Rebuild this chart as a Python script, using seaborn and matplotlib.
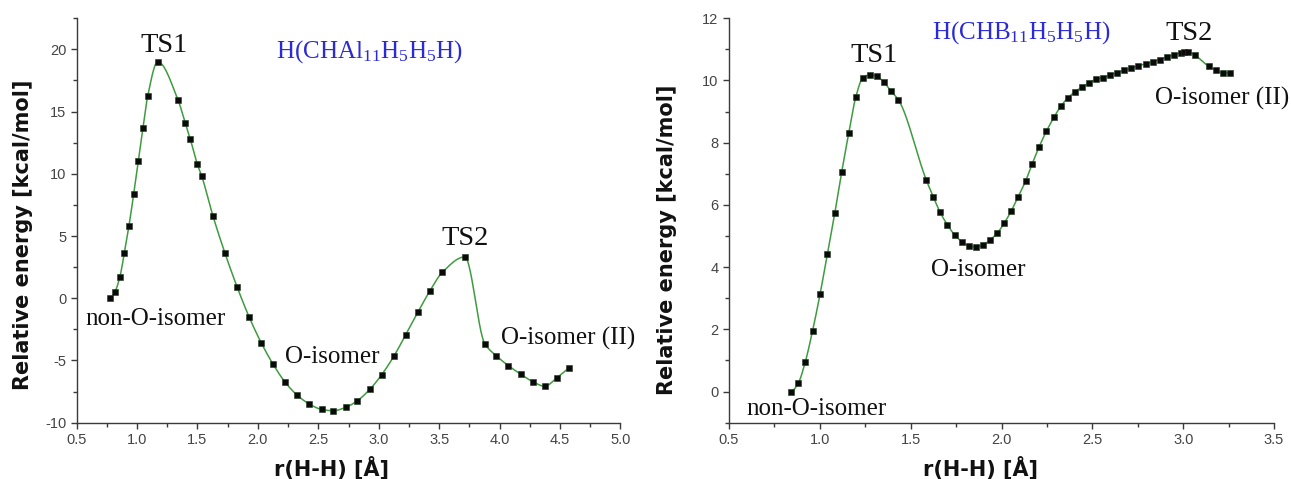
import numpy as np
import pandas as pd
import matplotlib
matplotlib.use("Agg")
import matplotlib.pyplot as plt
from matplotlib.ticker import MultipleLocator
import seaborn as sns

# ---- H(CHAl11H5H5H) energy profile ----
al_r = [0.776, 0.815, 0.858, 0.894, 0.933, 0.972, 1.010, 1.049, 1.088, 1.171,
        1.339, 1.399, 1.440, 1.498, 1.535, 1.628, 1.728, 1.827, 1.929, 2.027,
        2.125, 2.223, 2.324, 2.426, 2.527, 2.625, 2.726, 2.824, 2.926, 3.025,
        3.127, 3.224, 3.325, 3.425, 3.527, 3.712, 3.878, 3.971, 4.073, 4.175,
        4.275, 4.374, 4.474, 4.575]
al_e = [0.00, 0.48, 1.74, 3.61, 5.83, 8.38, 11.03, 13.70, 16.25, 19.00,
        15.93, 14.06, 12.80, 10.79, 9.82, 6.61, 3.61, 0.93, -1.54, -3.57,
        -5.29, -6.71, -7.78, -8.50, -8.93, -9.04, -8.77, -8.23, -7.32, -6.14,
        -4.63, -2.92, -1.10, 0.61, 2.09, 3.32, -3.65, -4.61, -5.41, -6.10,
        -6.70, -7.07, -6.40, -5.57]

# ---- H(CHB11H5H5H) energy profile ----
b_r = [0.842, 0.881, 0.920, 0.960, 1.001, 1.041, 1.082, 1.120, 1.159, 1.198,
       1.236, 1.276, 1.313, 1.353, 1.392, 1.432, 1.585, 1.625, 1.662, 1.702,
       1.741, 1.781, 1.820, 1.858, 1.897, 1.936, 1.976, 2.014, 2.053, 2.091,
       2.132, 2.168, 2.207, 2.247, 2.288, 2.326, 2.365, 2.403, 2.444, 2.482,
       2.520, 2.559, 2.597, 2.638, 2.676, 2.714, 2.753, 2.793, 2.832, 2.870,
       2.909, 2.947, 2.985, 3.005, 3.026, 3.062, 3.141, 3.182, 3.220, 3.258]
b_e = [0.00, 0.27, 0.96, 1.96, 3.13, 4.42, 5.73, 7.05, 8.31, 9.47,
       10.08, 10.18, 10.13, 9.94, 9.65, 9.38, 6.81, 6.25, 5.76, 5.36,
       5.04, 4.82, 4.68, 4.65, 4.71, 4.87, 5.09, 5.41, 5.80, 6.26,
       6.76, 7.31, 7.87, 8.37, 8.81, 9.17, 9.44, 9.63, 9.79, 9.92,
       10.04, 10.09, 10.18, 10.24, 10.33, 10.39, 10.47, 10.53, 10.60, 10.67,
       10.75, 10.82, 10.89, 10.92, 10.92, 10.82, 10.45, 10.32, 10.24, 10.24]

al_title = r"H(CHAl$_{\mathrm{11}}$H$_{\mathrm{5}}$H$_{\mathrm{5}}$H)"
b_title = r"H(CHB$_{\mathrm{11}}$H$_{\mathrm{5}}$H$_{\mathrm{5}}$H)"

# (text, x, y, size) labels for each panel
al_labels = [("TS1", 1.224, 19.81, 20.5), ("TS2", 3.719, 4.28, 20.5),
             ("non-O-isomer", 1.154, -2.14, 18), ("O-isomer", 2.616, -5.17, 18),
             ("O-isomer (II)", 4.572, -3.75, 18)]
b_labels = [("TS1", 1.298, 10.58, 20.5), ("TS2", 3.033, 11.30, 20.5),
            ("non-O-isomer", 0.982, -0.75, 18), ("O-isomer", 1.873, 3.72, 18),
            ("O-isomer (II)", 3.212, 9.21, 18)]


def _edge_slope(h0, h1, d0, d1):
    m = ((2 * h0 + h1) * d0 - h0 * d1) / (h0 + h1)
    if np.sign(m) != np.sign(d0):
        m = 0.0
    elif np.sign(d0) != np.sign(d1) and abs(m) > abs(3 * d0):
        m = 3 * d0
    return m


def smooth_curve(x, y, n=600):
    """Shape-preserving cubic (PCHIP) curve through the points."""
    x = np.asarray(x, float)
    y = np.asarray(y, float)
    h = np.diff(x)
    d = np.diff(y) / h
    m = np.zeros_like(y)
    for k in range(1, len(x) - 1):
        if d[k - 1] * d[k] > 0:
            w1 = 2 * h[k] + h[k - 1]
            w2 = h[k] + 2 * h[k - 1]
            m[k] = (w1 + w2) / (w1 / d[k - 1] + w2 / d[k])
    m[0] = _edge_slope(h[0], h[1], d[0], d[1])
    m[-1] = _edge_slope(h[-1], h[-2], d[-1], d[-2])
    xn = np.linspace(x[0], x[-1], n)
    idx = np.clip(np.searchsorted(x, xn) - 1, 0, len(h) - 1)
    t = (xn - x[idx]) / h[idx]
    h00 = 2 * t**3 - 3 * t**2 + 1
    h10 = t**3 - 2 * t**2 + t
    h01 = -2 * t**3 + 3 * t**2
    h11 = t**3 - t**2
    yn = h00 * y[idx] + h10 * h[idx] * m[idx] + h01 * y[idx + 1] + h11 * h[idx] * m[idx + 1]
    return xn, yn


sns.set_style("ticks")
plt.rcParams.update({
    "font.family": ["Liberation Sans", "DejaVu Sans"],
    "mathtext.fontset": "custom",
    "mathtext.rm": "Liberation Serif",
    "mathtext.it": "Liberation Serif:italic",
    "mathtext.bf": "Liberation Serif:bold",
    "axes.edgecolor": "#3a3a3a",
    "axes.linewidth": 1.0,
    "xtick.color": "#3a3a3a",
    "ytick.color": "#3a3a3a",
    "xtick.labelcolor": "#444444",
    "ytick.labelcolor": "#444444",
    "xtick.direction": "out",
    "ytick.direction": "out",
})

LINE = "#3f9b3f"
BLUE = "#2b2bd6"
SERIF = ["Liberation Serif", "DejaVu Serif"]
AXFONT = dict(family=["DejaVu Sans"], weight="bold", size=15, color="#111111")

fig = plt.figure(figsize=(12.91, 4.79), dpi=100)
axL = fig.add_axes([0.0594, 0.1175, 0.4211, 0.8445])
axR = fig.add_axes([0.5647, 0.1175, 0.4222, 0.8445])

panels = [
    (axL, al_r, al_e, al_title, (2.92, 19.3), al_labels, (0.5, 5.0), (-10, 22.5), 5, 2.5, 25,
     (-0.080, 0.464), (0.4696, -0.082)),
    (axR, b_r, b_e, b_title, (2.110, 11.34), b_labels, (0.5, 3.5), (-1, 12), 2, 1, 20,
     (-0.095, 0.451), (0.4606, -0.082)),
]

for (ax, xs, ys, title, tpos, labels, xlim, ylim, ymaj, ymin, msize,
     ylab_pos, xlab_pos) in panels:
    pts = pd.DataFrame({"r": xs, "E": ys})
    cx, cy = smooth_curve(xs, ys)
    curve = pd.DataFrame({"r": cx, "E": cy})
    sns.lineplot(data=curve, x="r", y="E", ax=ax, color=LINE, lw=1.1,
                 sort=False, estimator=None, zorder=2)
    sns.scatterplot(data=pts, x="r", y="E", ax=ax, marker="s", s=msize,
                    color="#0a0a0a", edgecolor="#1c3a1c", linewidth=0.4, zorder=3)

    ax.set_xlim(*xlim)
    ax.set_ylim(*ylim)
    ax.xaxis.set_major_locator(MultipleLocator(0.5))
    ax.xaxis.set_minor_locator(MultipleLocator(0.25))
    ax.yaxis.set_major_locator(MultipleLocator(ymaj))
    ax.yaxis.set_minor_locator(MultipleLocator(ymin))
    ax.xaxis.set_major_formatter(plt.FormatStrFormatter("%.1f"))
    ax.yaxis.set_major_formatter(plt.FormatStrFormatter("%g"))
    ax.tick_params(which="major", length=4.5, width=1.0, labelsize=10.5, pad=3)
    ax.tick_params(which="minor", length=2.8, width=1.0)
    sns.despine(ax=ax)
    ax.spines["left"].set_bounds(ylim[0], ylim[1])

    ax.set_xlabel("r(H-H) [Å]", fontdict=AXFONT)
    ax.set_ylabel("Relative energy [kcal/mol]", fontdict=AXFONT)
    ax.yaxis.set_label_coords(*ylab_pos)
    ax.xaxis.set_label_coords(*xlab_pos)

    ax.text(tpos[0], tpos[1], title, color=BLUE, family=SERIF, size=18,
            ha="center", va="baseline")
    for txt, x, y, sz in labels:
        ax.text(x, y, txt, family=SERIF, size=sz, color="#111111",
                ha="center", va="baseline")

fig.savefig("out.png", dpi=100, facecolor="white")
